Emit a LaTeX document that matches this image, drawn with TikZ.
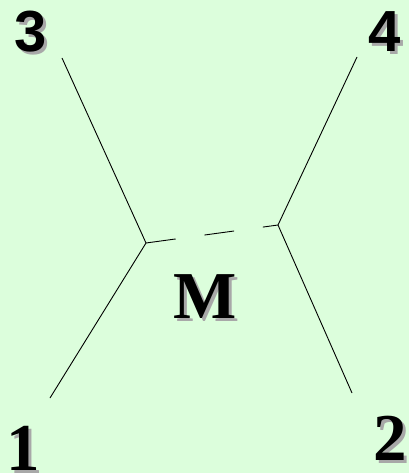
\documentclass[tikz,border=0pt]{standalone}
\usepackage{fontspec}
\setmainfont{Liberation Serif}
\newfontfamily\numsans{Liberation Sans}
\usepackage{xcolor}
\definecolor{bggreen}{RGB}{220,254,220}
\definecolor{shadowgray}{RGB}{168,168,168}
\newcommand\shtext[1]{\makebox[0pt][l]{\raisebox{-3pt}{\hspace{3pt}\textcolor{shadowgray}{#1}}}#1}

\begin{document}
\begin{tikzpicture}[x=1pt, y=-1pt,
    leg/.style={line width=0.9pt},
    prop/.style={line width=0.9pt, dash pattern=on 30pt off 29pt},
    sanslabel/.style={anchor=base, inner sep=0pt, font=\numsans\bfseries\fontsize{58}{58}\selectfont},
    seriflabel/.style={anchor=base, inner sep=0pt, font=\bfseries\fontsize{67}{67}\selectfont}
  ]
  \fill[bggreen] (0,0) rectangle (409,473);
  \useasboundingbox (0,0) rectangle (409,473);

  % vertices and leg ends
  \coordinate (vl) at (146,243);
  \coordinate (vr) at (278,225);
  \coordinate (e3) at (62,58);
  \coordinate (e1) at (50,398);
  \coordinate (e4) at (357,57);
  \coordinate (e2) at (352,393);

  \draw[leg] (e3) -- (vl);
  \draw[leg] (vl) -- (e1);
  \draw[leg] (e4) -- (vr);
  \draw[leg] (vr) -- (e2);
  \draw[prop] (vl) -- (vr);

  \node[sanslabel] (n3) at (31,52) {\shtext{3}};
  \node[sanslabel] (n4) at (385,52) {\shtext{4}};
  \node[seriflabel] (n1) at (23,470) {\shtext{1}};
  \node[seriflabel] (n2) at (390,460) {\shtext{2}};
  \node[seriflabel] (m) at (205,318) {\shtext{M}};
\end{tikzpicture}
\end{document}
